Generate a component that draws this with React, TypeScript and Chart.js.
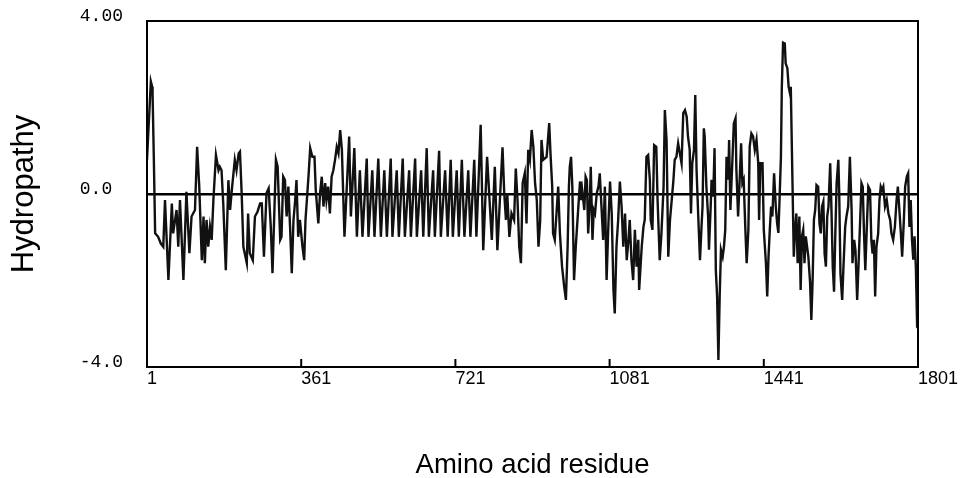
import React, { useEffect, useRef } from 'react';
import { Chart, registerables } from 'chart.js';

Chart.register(...registerables);

// [amino acid residue, hydropathy]
const nTerminalRegion: [number, number][] = [
  [1, 0.79], [4, 1.4], [10, 2.6], [13, 2.48], [14, 2.33], [17, 0.79], [20, -0.91], [27, -0.99],
  [33, -1.14], [39, -1.22], [43, -0.14], [51, -1.99], [59, -0.22], [62, -0.91], [70, -0.37],
  [74, -1.22], [78, -0.14], [86, -1.99], [93, 0.05], [100, -1.37], [105, -0.52], [113, -0.37],
  [118, 1.09], [123, 0.17], [129, -1.53], [133, -0.52], [136, -1.6], [140, -0.6], [144, -1.22],
  [148, -0.76], [152, -1.06], [156, -0.14], [162, 0.9], [168, 0.55], [171, 0.63], [175, 0.55],
  [179, -0.22], [185, -1.76], [191, 0.32], [195, -0.37], [199, 0.09], [206, 0.79], [210, 0.55],
  [215, 0.94], [218, 0.98], [222, 0.02], [226, -1.22], [234, -1.6], [237, -0.45], [241, -1.37],
  [248, -1.53], [253, -0.52], [259, -0.41], [265, -0.22], [269, -0.22], [274, -1.45], [280, 0.02],
  [285, 0.13], [290, -0.76], [294, -1.83],
];

const preRepeatRegion: [number, number][] = [
  [302, 0.79], [306, 0.63], [309, -0.22], [312, -1.06], [315, -0.99], [319, 0.4], [323, 0.32],
  [327, -0.52], [331, 0.17], [335, -0.76], [339, -1.83], [343, -0.6], [347, -0.14], [350, 0.32],
  [354, -0.99], [358, -0.6], [364, -1.22], [368, -1.53], [371, -0.6], [378, 0.4], [382, 1.06],
  [387, 0.86], [392, 0.86], [395, 0.09], [401, -0.68], [405, 0.02], [409, 0.4], [413, -0.29],
  [417, 0.25], [420, -0.14], [424, 0.17], [428, -0.45], [432, 0.4], [436, 0.55], [440, 0.79],
  [444, 1.09], [448, 0.94],
];

const repeatRegion: [number, number][] = [
  [452, 1.48], [456, 1.02], [462, -0.99], [473, 1.33], [477, -0.52], [485, 1.06], [491, -0.99],
  [498, 0.55], [504, -0.99], [514, 0.82], [518, -0.99], [527, 0.55], [532, -0.99], [541, 0.82],
  [547, -0.99], [555, 0.55], [561, -0.99], [570, 0.82], [574, -0.99], [584, 0.55], [589, -0.99],
  [598, 0.82], [603, -0.99], [613, 0.55], [617, -0.99], [627, 0.82], [631, -0.99], [641, 0.55],
  [646, -0.99], [654, 1.06], [659, -0.99], [669, 0.55], [673, -0.99], [683, 1.0], [687, -0.99],
  [697, 0.55], [703, -0.99], [710, 0.79], [715, -0.99], [724, 0.55], [729, -0.99], [736, 0.79],
  [742, -0.99], [751, 0.55], [756, -0.99], [765, 0.79], [770, -0.99], [780, 1.6], [786, -1.3],
  [795, 0.86], [806, -1.06], [813, 0.63], [819, -1.3], [831, 1.08],
];

const middleRegion: [number, number][] = [
  [835, 0.02], [839, -0.6], [842, 0.02], [847, -0.99], [852, -0.45], [858, -0.6], [862, 0.59],
  [866, -0.14], [870, -1.22], [874, -1.6], [878, 0.25], [883, 0.48], [887, -0.68], [891, 1.02],
  [895, 0.79], [899, 1.48], [903, 1.09], [907, 0.25], [911, -0.14], [915, -1.22], [919, -0.6],
  [922, 1.25], [926, 0.79], [934, 0.86], [940, 1.64], [943, 0.94], [947, 0.17], [949, -0.91],
  [953, -1.06], [957, -0.45], [961, 0.17], [965, -0.91], [970, -1.68], [975, -2.14], [979, -2.45],
  [983, -1.22], [986, 0.17], [988, 0.63], [991, 0.86], [994, 0.17], [998, -1.99], [1002, -1.22],
  [1005, -0.76], [1009, -0.14], [1012, 0.29], [1014, -0.14], [1017, 0.09], [1022, -0.37],
  [1025, 0.4], [1028, 0.32], [1031, -0.91], [1035, -0.14], [1037, 0.63], [1041, -1.06],
  [1044, -0.37], [1047, -0.45], [1051, 0.02], [1055, 0.17], [1058, 0.48], [1062, -0.29],
  [1066, -1.06], [1070, 0.17], [1074, -1.99], [1078, -0.76], [1082, 0.29], [1086, -0.45],
  [1090, -2.22], [1093, -2.76], [1097, -1.22], [1101, -0.6], [1105, 0.29], [1109, -0.29],
  [1113, -1.22], [1117, -0.45], [1121, -1.53], [1125, -1.06], [1128, -0.6], [1132, -1.53],
  [1136, -1.99], [1140, -0.83], [1144, -1.68], [1148, -1.06], [1150, -2.22], [1156, -1.22],
  [1160, -0.76], [1163, -0.6], [1167, 0.86], [1171, 0.9], [1175, 0.32], [1177, -0.6],
  [1181, -0.83], [1185, 1.13], [1190, 1.09], [1193, -0.14], [1198, -1.53], [1202, -0.91],
  [1207, 0.17], [1210, 1.94], [1214, 1.25], [1218, -1.45], [1222, -0.6], [1226, -0.14],
  [1230, 0.32], [1233, 0.79], [1237, 0.86], [1241, 1.17],
];

const hydrophobicRegion: [number, number][] = [
  [1245, 0.94], [1249, 0.71], [1253, 1.87], [1257, 1.94], [1261, 1.79], [1264, 1.33], [1268, 1.02],
  [1271, -0.45], [1274, 0.71], [1278, 1.02], [1281, 2.29], [1284, 0.56], [1288, -0.52],
  [1292, -1.53], [1296, -0.67], [1298, -0.29], [1301, 1.52], [1303, 1.33], [1307, 0.17],
  [1311, -0.52], [1313, -1.29], [1317, -0.29], [1319, 0.33], [1323, -0.06], [1326, 1.06],
  [1329, -1.76], [1332, -2.37], [1335, -3.84], [1338, -2.37], [1341, -1.29], [1345, -1.45],
  [1348, -1.22], [1351, -0.83], [1354, 0.86], [1358, 0.33], [1360, 1.25], [1363, -0.37],
  [1368, 0.86], [1371, 1.63], [1375, 1.75], [1377, 0.56], [1381, -0.52], [1385, 0.41],
  [1388, 1.17], [1391, 0.25], [1394, 0.33], [1398, -0.83], [1401, -1.6], [1405, -0.83],
  [1408, 1.09], [1412, 1.4], [1416, 1.33], [1420, 1.02], [1424, 1.25], [1428, 0.71], [1430, -0.6],
  [1433, 0.71], [1438, 0.71], [1441, -0.83], [1446, -1.6], [1449, -2.37], [1452, -1.45],
  [1455, -0.83], [1458, -0.29], [1461, -0.52], [1465, 0.48], [1469, -0.29], [1472, -0.67],
  [1475, -0.9], [1478, -0.06], [1481, 0.86], [1483, 2.44], [1486, 3.5], [1490, 3.48], [1492, 3.02],
  [1496, 2.91], [1499, 2.48], [1502, 2.33], [1504, 2.48], [1508, 0.25], [1511, -1.45],
  [1514, -0.83], [1517, -0.45], [1520, -1.6], [1524, -0.52], [1527, -2.22], [1530, -0.98],
  [1533, -0.83], [1536, -1.6], [1539, -0.98], [1545, -1.45], [1549, -2.04], [1552, -2.91],
];

const cTerminalRegion: [number, number][] = [
  [1555, -1.99], [1558, -0.6], [1561, -0.37], [1564, 0.21], [1568, 0.17], [1571, -0.68],
  [1574, -0.91], [1577, -0.29], [1580, -0.18], [1583, -1.38], [1586, -1.68], [1589, -0.52],
  [1592, -0.29], [1596, 0.71], [1599, -0.37], [1602, -1.68], [1605, -2.26], [1608, -0.91],
  [1611, 0.25], [1615, 0.79], [1617, 0.07], [1620, -1.84], [1624, -2.45], [1627, -1.68],
  [1631, -0.76], [1634, -0.52], [1638, -0.29], [1642, 0.86], [1646, -0.37], [1648, -1.6],
  [1652, -1.06], [1655, -1.3], [1659, -2.45], [1662, -1.68], [1666, -0.6], [1669, 0.25],
  [1672, 0.17], [1675, -0.91], [1678, -1.76], [1681, -0.91], [1685, 0.17], [1689, 0.09],
  [1692, -1.06], [1695, -1.38], [1698, -1.06], [1701, -2.37], [1704, -1.22], [1708, -0.91],
  [1711, -0.14], [1714, 0.17], [1717, 0.09], [1720, 0.17], [1724, -0.29], [1728, -0.14],
  [1732, -0.45], [1736, -0.6], [1739, -0.91], [1743, -1.06], [1747, -0.76], [1751, -0.14],
  [1754, 0.17], [1757, -0.29], [1761, -0.91], [1764, -1.45], [1768, -0.6], [1771, 0.17],
  [1775, 0.41], [1778, 0.48], [1781, -0.76], [1784, -0.14], [1787, -1.06], [1790, -1.52],
  [1793, -0.98], [1796, -1.68], [1799, -3.07], [1801, -3.1],
];

const xTickValues = [1, 361, 721, 1081, 1441, 1801];
const xTickLabels = ['1', '361', '721', '1081', '1441', '1801'];
const innerTickValues = [361, 721, 1081, 1441];
const yTickValues = [-4, 0, 4];
const yTickLabels = ['-4.0', '0.0 ', '4.00'];

const xTitle = 'Amino acid residue';
const yTitle = 'Hydropathy';

const framePlugin = {
  id: 'frameAndInnerTicks',
  afterDraw(chart: any) {
    const { ctx, chartArea: a, scales } = chart;
    ctx.save();
    ctx.strokeStyle = '#000';
    ctx.lineWidth = 2;
    ctx.strokeRect(a.left, a.top, a.right - a.left, a.bottom - a.top);
    for (const t of innerTickValues) {
      const px = scales.x.getPixelForValue(t);
      ctx.beginPath();
      ctx.moveTo(px, a.bottom);
      ctx.lineTo(px, a.bottom - 8);
      ctx.stroke();
    }
    ctx.restore();
  },
};

export default function App() {
  const ref = useRef<HTMLCanvasElement>(null);

  useEffect(() => {
    const points = [
      ...nTerminalRegion,
      ...preRepeatRegion,
      ...repeatRegion,
      ...middleRegion,
      ...hydrophobicRegion,
      ...cTerminalRegion,
    ].map(([x, y]) => ({ x, y }));

    const chart = new Chart(ref.current as HTMLCanvasElement, {
      type: 'line',
      data: {
        datasets: [
          {
            data: points,
            borderColor: '#111',
            borderWidth: 2.4,
            pointRadius: 0,
            tension: 0,
            fill: false,
          },
        ],
      },
      options: {
        animation: false,
        responsive: false,
        devicePixelRatio: 1,
        layout: { padding: { top: 21, right: 46, left: 0, bottom: 0 } },
        plugins: { legend: { display: false }, tooltip: { enabled: false } },
        scales: {
          x: {
            type: 'linear',
            min: 1,
            max: 1801,
            afterFit: (s: any) => {
              s.height = 111;
            },
            afterBuildTicks: (s: any) => {
              s.ticks = xTickValues.map((v) => ({ value: v }));
            },
            grid: { display: false, drawTicks: false },
            border: { display: false },
            ticks: {
              autoSkip: false,
              maxRotation: 0,
              align: 'start',
              padding: 1,
              color: '#000',
              font: { family: '"Liberation Sans", Arial, sans-serif', size: 18 },
              callback: (v: any) => {
                const i = xTickValues.indexOf(Number(v));
                return i >= 0 ? xTickLabels[i] : '';
              },
            },
            title: {
              display: true,
              text: xTitle,
              color: '#000',
              padding: { top: 0, bottom: -1 },
              font: { family: '"Liberation Sans", Arial, sans-serif', size: 27.5, lineHeight: 1 },
            },
          },
          y: {
            type: 'linear',
            min: -4,
            max: 4,
            afterFit: (s: any) => {
              s.width = 147;
            },
            afterBuildTicks: (s: any) => {
              s.ticks = yTickValues.map((v) => ({ value: v }));
            },
            grid: {
              drawTicks: true,
              tickLength: 24,
              tickColor: 'rgba(0,0,0,0)',
              color: (c: any) => (c.tick && c.tick.value === 0 ? '#000' : 'rgba(0,0,0,0)'),
              lineWidth: 2.5,
            },
            border: { display: false },
            ticks: {
              autoSkip: false,
              padding: 0,
              labelOffset: -5,
              color: '#000',
              font: { family: '"Liberation Mono", "Courier New", monospace', size: 18 },
              callback: (v: any) => {
                const i = yTickValues.indexOf(Number(v));
                return i >= 0 ? yTickLabels[i] : '';
              },
            },
            title: {
              display: true,
              text: yTitle,
              color: '#000',
              padding: { top: 9, bottom: 0 },
              font: { family: '"Liberation Sans", Arial, sans-serif', size: 31, lineHeight: 1 },
            },
          },
        },
      },
      plugins: [framePlugin],
    });

    return () => chart.destroy();
  }, []);

  return (
    <div style={{ position: 'fixed', left: 0, top: 0, width: 964, height: 478, background: '#fff' }}>
      <canvas ref={ref} width={964} height={478} style={{ display: 'block' }} />
    </div>
  );
}
